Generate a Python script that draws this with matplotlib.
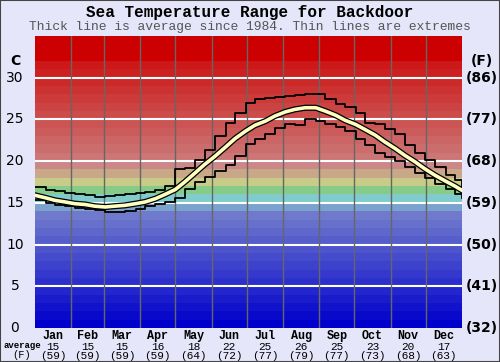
import numpy as np
import matplotlib
matplotlib.use('Agg')
import matplotlib.pyplot as plt
import matplotlib.patheffects as pe
from matplotlib.transforms import blended_transform_factory

# day of year for each reading
days = [0, 9, 17, 26, 34, 43, 51, 60, 68, 77, 86, 94, 103, 111, 120, 128, 137,
        145, 154, 163, 171, 180, 188, 197, 205, 214, 222, 231, 240, 248, 257,
        265, 274, 282, 291, 299, 308, 316, 325, 333, 342, 351, 359, 365]
temp_max = [16.9, 16.5, 16.4, 16.2, 16.0, 15.9, 15.7, 15.8, 15.9, 16.1, 16.2,
            16.3, 16.5, 17.0, 19.0, 19.2, 20.1, 21.3, 23.0, 24.6, 25.8, 27.0,
            27.5, 27.6, 27.7, 27.8, 27.9, 28.1, 28.1, 27.4, 26.8, 26.5, 25.8,
            24.6, 24.4, 23.9, 23.3, 21.9, 21.0, 20.1, 19.3, 18.3, 17.7, 16.9]
temp_avg = [15.9, 15.6, 15.3, 15.1, 14.9, 14.8, 14.6, 14.5, 14.6, 14.7, 14.9,
            15.1, 15.5, 16.0, 16.6, 17.5, 18.6, 19.6, 20.6, 21.7, 22.7, 23.6,
            24.3, 24.8, 25.4, 25.9, 26.2, 26.4, 26.4, 26.0, 25.5, 24.9, 24.4,
            23.8, 23.1, 22.3, 21.5, 20.7, 19.9, 19.1, 18.3, 17.6, 17.0, 16.5]
temp_min = [15.3, 15.0, 14.8, 14.6, 14.4, 14.3, 14.1, 13.9, 13.9, 14.0, 14.3,
            14.6, 14.9, 15.1, 15.6, 16.6, 17.5, 18.1, 18.8, 19.5, 20.6, 22.0,
            22.7, 23.2, 24.0, 24.5, 24.3, 25.0, 24.8, 24.5, 24.1, 23.6, 22.7,
            21.9, 21.0, 20.5, 20.0, 19.3, 18.6, 18.0, 17.3, 16.6, 16.1, 15.6]

months = ['Jan', 'Feb', 'Mar', 'Apr', 'May', 'Jun',
          'Jul', 'Aug', 'Sep', 'Oct', 'Nov', 'Dec']
month_len = [31, 28, 31, 30, 31, 30, 31, 31, 30, 31, 30, 31]
month_avg_c = [15, 15, 15, 16, 18, 22, 25, 26, 25, 23, 20, 17]
month_avg_f = [59, 59, 59, 59, 64, 72, 77, 79, 77, 73, 68, 63]

c_ticks = [0, 5, 10, 15, 20, 25, 30]
f_ticks = [32, 41, 50, 59, 68, 77, 86]

# colour of each 1-degree band (anchor temperature -> rgb)
band_anchor_t = [0, 13, 14, 15, 16, 17, 18, 19, 20, 31, 32, 35]
band_anchor_rgb = [(0, 0, 204), (112, 122, 204), (122, 162, 204), (128, 204, 204),
                   (134, 204, 136), (200, 204, 136), (200, 168, 134), (204, 136, 136),
                   (204, 118, 118), (204, 24, 24), (204, 0, 0), (204, 0, 0)]

mono = 'Liberation Mono'
bg = '#e6e6fa'

fig = plt.figure(figsize=(5, 3.62), dpi=100, facecolor=bg)
ax = fig.add_axes([0.07, 0.094, 0.854, 0.8066])
ax.set_xlim(0, 365)
ax.set_ylim(0, 35)

rgb = np.array(band_anchor_rgb, dtype=float)
for t in range(35):
    col = [np.interp(t, band_anchor_t, rgb[:, k]) / 255. for k in range(3)]
    ax.axhspan(t, t + 1, color=col, lw=0, zorder=0)

for t in c_ticks[1:]:
    ax.axhline(t, color='white', lw=1.5, zorder=1)

edges = np.cumsum([0] + month_len)
for e in edges[1:-1]:
    ax.axvline(e, color='#666666', lw=1, zorder=1)

ax.plot(days, temp_max, color='black', lw=1.3, drawstyle='steps-post', zorder=3)
ax.plot(days, temp_min, color='black', lw=1.3, drawstyle='steps-post', zorder=3)
ax.plot(days, temp_avg, color='#ffffc0', lw=2.6, zorder=4,
        path_effects=[pe.Stroke(linewidth=4.4, foreground='black'), pe.Normal()])

ax.set_xticks([])
ax.set_yticks([])
for s in ax.spines.values():
    s.set_visible(False)

tr = blended_transform_factory(ax.transAxes, ax.transData)
for c, f in zip(c_ticks, f_ticks):
    ax.text(-0.047, c, str(c), transform=tr, ha='center', va='center',
            fontsize=10, color='black')
    ax.text(1.047, c, '(%d)' % f, transform=tr, ha='center', va='center',
            fontsize=10, fontweight='bold', color='black')
ax.text(-0.047, 32.0, 'C', transform=tr, ha='center', va='center',
        fontsize=10, fontweight='bold')
ax.text(1.047, 32.0, '(F)', transform=tr, ha='center', va='center',
        fontsize=10, fontweight='bold')

trb = blended_transform_factory(ax.transData, ax.transAxes)
for i, m in enumerate(months):
    mid = (edges[i] + edges[i + 1]) / 2.
    ax.text(mid, -0.028, m, transform=trb, ha='center', va='center',
            fontsize=8.5, fontweight='bold', family=mono)
    ax.text(mid, -0.066, str(month_avg_c[i]), transform=trb, ha='center',
            va='center', fontsize=8, family=mono)
    ax.text(mid, -0.097, '(%d)' % month_avg_f[i], transform=trb, ha='center',
            va='center', fontsize=8, family=mono)
fig.text(22 / 500., 1 - 346 / 362., 'average', ha='center', va='center',
         fontsize=6.5, fontweight='bold', family=mono)
fig.text(22 / 500., 1 - 355 / 362., '(F)', ha='center', va='center',
         fontsize=7.5, family=mono)

fig.text(0.5, 1 - 12 / 362., 'Sea Temperature Range for Backdoor', ha='center',
         va='center', fontsize=11.5, fontweight='bold', family=mono)
fig.text(0.5, 1 - 27 / 362., 'Thick line is average since 1984. Thin lines are extremes',
         ha='center', va='center', fontsize=9.4, color='#555555', family=mono)

fig.patches.append(plt.Rectangle((0, 0), 1, 1, transform=fig.transFigure,
                                 fill=False, edgecolor='#444444', lw=1.5))

fig.savefig('out.png', dpi=100, facecolor=bg)
